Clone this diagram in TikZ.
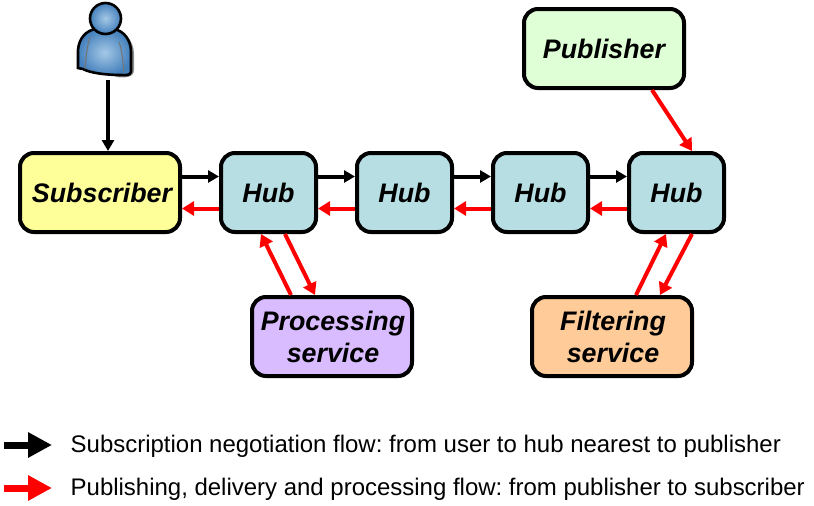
\documentclass[tikz,border=0pt]{standalone}
\usepackage{fontspec}
\setmainfont{Liberation Sans}
\usetikzlibrary{arrows.meta,shadings}
\definecolor{subc}{HTML}{FFFF99}
\definecolor{hubc}{HTML}{B7DEE3}
\definecolor{pubc}{HTML}{DFFFD6}
\definecolor{proc}{HTML}{D9BBFF}
\definecolor{filc}{HTML}{FFCC99}
\definecolor{pflow}{HTML}{FF0000}
\definecolor{skin}{HTML}{4480BC}
\definecolor{skinl}{HTML}{A5C8E6}
\tikzset{
  x=1pt,y=-1pt,
  boxn/.style={draw=black,line width=4pt,rounded corners=14pt,align=center,
    font=\fontsize{26.8}{32}\selectfont\bfseries\itshape,inner sep=0pt,
    minimum height=79pt},
  wide/.style={boxn,minimum width=160pt},
  hubn/.style={boxn,fill=hubc,minimum width=95pt},
  blk/.style={line width=4pt,draw=black,-{Triangle[length=11pt,width=12pt]}},
  rd/.style={line width=4pt,draw=pflow,-{Triangle[length=12pt,width=14pt]}},
  legtext/.style={anchor=west,font=\frenchspacing\fontsize{23.97}{28}\selectfont,inner sep=0pt},
  lega/.style={line width=7pt,-{Triangle[length=24pt,width=24pt]}},
}
\begin{document}
\begin{tikzpicture}
\useasboundingbox (0,0) rectangle (814,506);
% person
\fill[black!45] (81,46) .. controls (83,36) and (92,30) .. (100,30) -- (112,30)
  .. controls (124,31) and (134,40) .. (134,54) -- (134,70) .. controls (134,78) and (124,78) .. (116,77) -- cycle;
\shade[inner color=skinl,outer color=skin,draw=black,line width=2.6pt]
  (78,68) -- (78,50) .. controls (79,38) and (86,31) .. (95,29) -- (114,29)
  .. controls (124,31) and (131,40) .. (131,52) -- (131,72)
  .. controls (130,76) and (124,75) .. (122,75)
  .. controls (106,75) and (90,73) .. (83,69) .. controls (81,68) and (79,69) .. (78,68) -- cycle;
\draw[black!55,line width=1pt] (90,37) .. controls (87,46) and (86,58) .. (85,69);
\draw[black!55,line width=1pt] (119,42) .. controls (122,50) and (123,62) .. (124,73);
\shade[inner color=skinl,outer color=skin,draw=black,line width=2.6pt] (105.5,18.5) circle[radius=15.5];
\coordinate (user) at (108,80);
% nodes
\node[wide,fill=subc] (sub) at (100,192.5) {\hspace*{4pt}Subscriber};
\node[hubn] (h1) at (268.5,192.5) {Hub};
\node[hubn] (h2) at (404.5,192.5) {Hub};
\node[hubn] (h3) at (540.5,192.5) {Hub};
\node[hubn] (h4) at (676.5,192.5) {Hub};
\node[wide,fill=pubc] (pub) at (604,48.5) {Publisher};
\node[wide,fill=proc] (pro) at (332,336.5) {\hspace*{2pt}Processing\\\hspace*{2pt}service};
\node[wide,fill=filc] (fil) at (612,336.5) {\hspace*{2pt}Filtering\\\hspace*{2pt}service};
% black flow
\draw[blk] (user) -- (user |- sub.north);
\draw[blk] ([yshift=16pt]sub.east) -- ([yshift=16pt]h1.west);
\draw[blk] ([yshift=16pt]h1.east) -- ([yshift=16pt]h2.west);
\draw[blk] ([yshift=16pt]h2.east) -- ([yshift=16pt]h3.west);
\draw[blk] ([yshift=16pt]h3.east) -- ([yshift=16pt]h4.west);
% red flow
\draw[rd] ([yshift=-16pt]h1.west) -- ([yshift=-16pt]sub.east);
\draw[rd] ([yshift=-16pt]h2.west) -- ([yshift=-16pt]h1.east);
\draw[rd] ([yshift=-16pt]h3.west) -- ([yshift=-16pt]h2.east);
\draw[rd] ([yshift=-16pt]h4.west) -- ([yshift=-16pt]h3.east);
\draw[rd] ([xshift=48pt]pub.south) -- ([xshift=15.5pt]h4.north);
\draw[rd] ([xshift=-41pt]pro.north) -- ([xshift=-7.5pt]h1.south);
\draw[rd] ([xshift=16.5pt]h1.south) -- ([xshift=-17pt]pro.north);
\draw[rd] ([xshift=24pt]fil.north) -- ([xshift=-10.5pt]h4.south);
\draw[rd] ([xshift=15.5pt]h4.south) -- ([xshift=48pt]fil.north);
% legend
\coordinate (la) at (4,445);
\coordinate (lb) at (52,445);
\coordinate (lc) at (4,488);
\coordinate (ld) at (52,488);
\draw[lega,draw=black] (la) -- (lb);
\draw[lega,draw=pflow] (lc) -- (ld);
\node[legtext] (t1) at (70.5,446.5) {Subscription negotiation flow: from user to hub nearest to publisher};
\node[legtext] (t2) at (70.5,489.5) {Publishing, delivery and processing flow: from publisher to subscriber};
\end{tikzpicture}
\end{document}
